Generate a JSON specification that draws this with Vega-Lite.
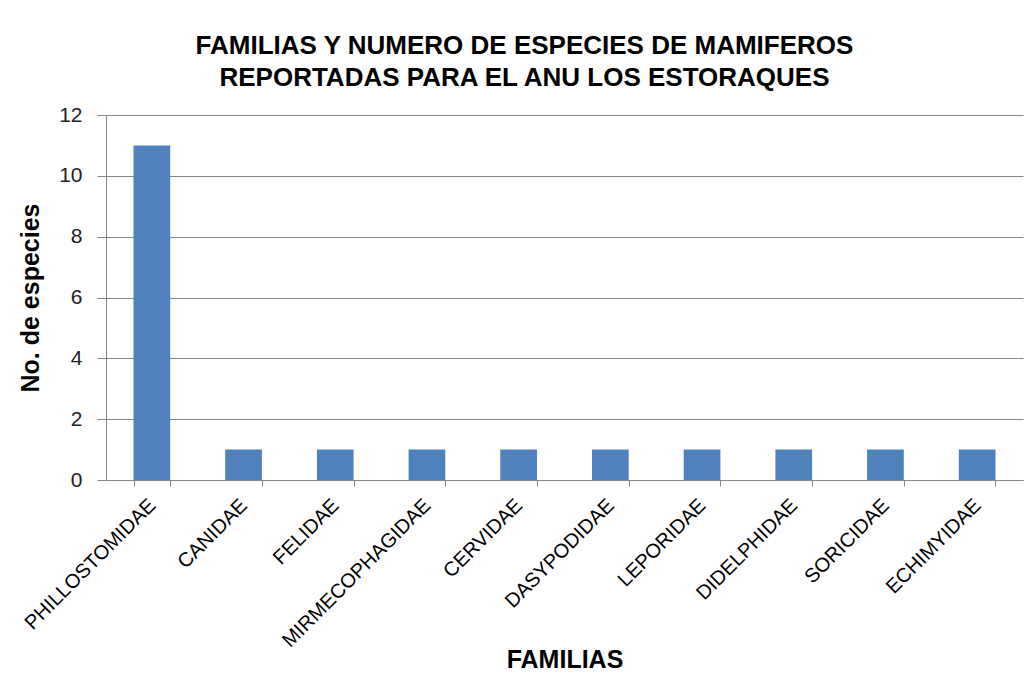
{
  "$schema": "https://vega.github.io/schema/vega-lite/v6.json",
  "width": 917,
  "height": 365,
  "autosize": {"type": "none"},
  "padding": {"left": 106, "top": 115, "right": 8, "bottom": 197},
  "background": "white",
  "title": {
    "text": ["FAMILIAS  Y NUMERO DE ESPECIES DE MAMIFEROS", "REPORTADAS PARA EL ANU LOS ESTORAQUES"],
    "font": "Liberation Sans",
    "fontSize": 26,
    "fontWeight": "bold",
    "color": "#000000",
    "lineHeight": 32,
    "anchor": "middle",
    "dx": -40,
    "offset": 13
  },
  "data": {
    "values": [
      {"familia": "PHILLOSTOMIDAE", "especies": 11},
      {"familia": "CANIDAE", "especies": 1},
      {"familia": "FELIDAE", "especies": 1},
      {"familia": "MIRMECOPHAGIDAE", "especies": 1},
      {"familia": "CERVIDAE", "especies": 1},
      {"familia": "DASYPODIDAE", "especies": 1},
      {"familia": "LEPORIDAE", "especies": 1},
      {"familia": "DIDELPHIDAE", "especies": 1},
      {"familia": "SORICIDAE", "especies": 1},
      {"familia": "ECHIMYIDAE", "especies": 1}
    ]
  },
  "mark": {"type": "bar", "color": "#4F81BD"},
  "encoding": {
    "x": {
      "field": "familia",
      "type": "nominal",
      "sort": null,
      "scale": {"paddingInner": 0.6, "paddingOuter": 0.3},
      "axis": {
        "title": "FAMILIAS",
        "titleFont": "Liberation Sans",
        "titleFontSize": 25,
        "titleFontWeight": "bold",
        "titleColor": "#000000",
        "titlePadding": -3,
        "labelAngle": -45,
        "labelAlign": "right",
        "labelBaseline": "middle",
        "labelFont": "Liberation Sans",
        "labelFontSize": 20,
        "labelColor": "#000000",
        "labelPadding": 16,
        "labelLimit": 0,
        "tickBand": "extent",
        "tickSize": 6,
        "tickColor": "#868686",
        "domainColor": "#868686",
        "grid": false
      }
    },
    "y": {
      "field": "especies",
      "type": "quantitative",
      "scale": {"domain": [0, 12], "nice": false},
      "axis": {
        "title": "No. de especies",
        "titleFont": "Liberation Sans",
        "titleFontSize": 25,
        "titleFontWeight": "bold",
        "titleColor": "#000000",
        "titlePadding": 15,
        "values": [0, 2, 4, 6, 8, 10, 12],
        "labelFont": "Liberation Sans",
        "labelFontSize": 21,
        "labelColor": "#222222",
        "labelPadding": 15,
        "tickSize": 9,
        "tickColor": "#868686",
        "domainColor": "#868686",
        "gridColor": "#868686",
        "grid": true
      }
    }
  },
  "config": {"view": {"stroke": null}}
}
